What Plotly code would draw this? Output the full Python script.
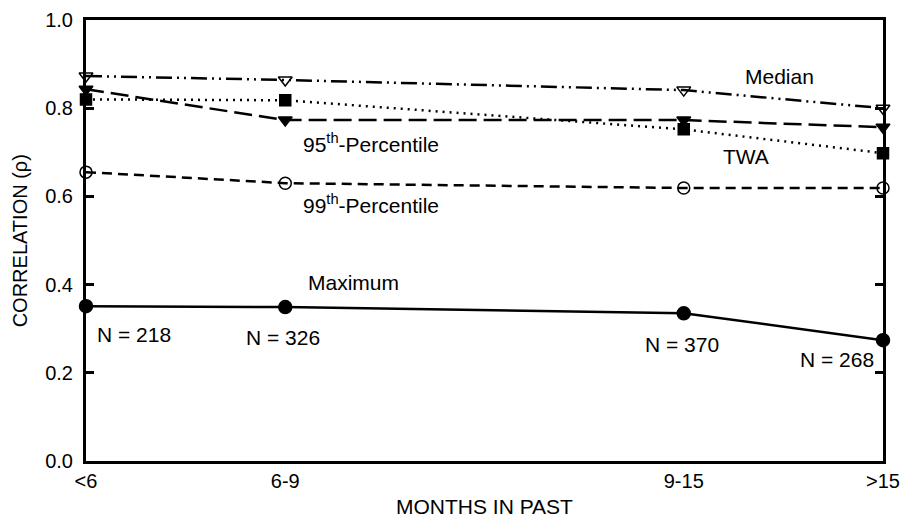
import plotly.graph_objects as go

# Data
categories = ["<6", "6-9", "9-15", ">15"]
month_pos = [0, 1, 3, 4]  # relative spacing of the month groups on the axis
median = [0.873, 0.864, 0.841, 0.800]
pct95 = [0.843, 0.773, 0.773, 0.757]
twa = [0.820, 0.818, 0.752, 0.698]
pct99 = [0.655, 0.630, 0.619, 0.619]
maximum = [0.351, 0.349, 0.335, 0.274]
n_labels = ["N = 218", "N = 326", "N = 370", "N = 268"]
y_ticks = [0.0, 0.2, 0.4, 0.6, 0.8, 1.0]

FONT = "Liberation Sans, Arial, sans-serif"
FS = 21

fig = go.Figure()

def add(y, dash, symbol, width=2.5, msize=11):
    fig.add_trace(go.Scatter(
        x=month_pos, y=y, mode="lines+markers",
        line=dict(color="black", width=width, dash=dash),
        marker=dict(symbol=symbol, size=msize, color="black",
                    line=dict(color="black", width=1.5)),
        cliponaxis=False, showlegend=False))

add(pct99, "10px,6px", "circle-open", msize=12)
add(twa, "2px,5px", "square", msize=11)
add(pct95, "18px,7px", "triangle-down", msize=12)
add(median, "16px,5px,2px,5px,2px,5px", "triangle-down-open", msize=12)
add(maximum, "solid", "circle", msize=13)

ann = [
    ("Median", 3.48, 0.871),
    ("95<sup>th</sup>-Percentile", 1.43, 0.722),
    ("TWA", 3.31, 0.690),
    ("99<sup>th</sup>-Percentile", 1.43, 0.582),
    ("Maximum", 1.34, 0.404),
    (n_labels[0], 0.24, 0.286),
    (n_labels[1], 0.99, 0.281),
    (n_labels[2], 2.99, 0.265),
    (n_labels[3], 3.77, 0.231),
]
for t, x, y in ann:
    fig.add_annotation(text=t, x=x, y=y, xref="x", yref="y", showarrow=False,
                       font=dict(family=FONT, size=FS, color="black"))

# axis titles
fig.add_annotation(text="MONTHS IN PAST", x=0.5, y=-0.104, xref="paper", yref="paper",
                   showarrow=False, yanchor="middle",
                   font=dict(family=FONT, size=FS, color="black"))
fig.add_annotation(text="CORRELATION (ρ)", x=-0.083, y=0.5, xref="paper", yref="paper",
                   showarrow=False, textangle=-90, xanchor="center",
                   font=dict(family=FONT, size=FS - 1, color="black"))

fig.update_layout(
    width=903, height=520,
    margin=dict(l=86, r=20, t=20, b=59),
    plot_bgcolor="white", paper_bgcolor="white",
    font=dict(family=FONT, size=FS, color="black"),
    xaxis=dict(range=[0, 4], tickvals=month_pos, ticktext=categories,
               showgrid=False, zeroline=False, showline=True, linecolor="black",
               linewidth=3, mirror=True, ticks="", automargin=False,
               tickfont=dict(family=FONT, size=FS - 1)),
    yaxis=dict(range=[0, 1], tickvals=y_ticks, tickformat=".1f",
               showgrid=False, zeroline=False, showline=True, linecolor="black",
               linewidth=3, mirror="ticks", ticks="inside", ticklen=8,
               tickwidth=2.5, tickcolor="black", automargin=False,
               ticklabelstandoff=6,
               tickfont=dict(family=FONT, size=FS - 1)),
)

fig.write_html("out.html", config={"displayModeBar": False},
               post_script="document.body.style.margin='0';document.body.style.overflow='hidden';")
